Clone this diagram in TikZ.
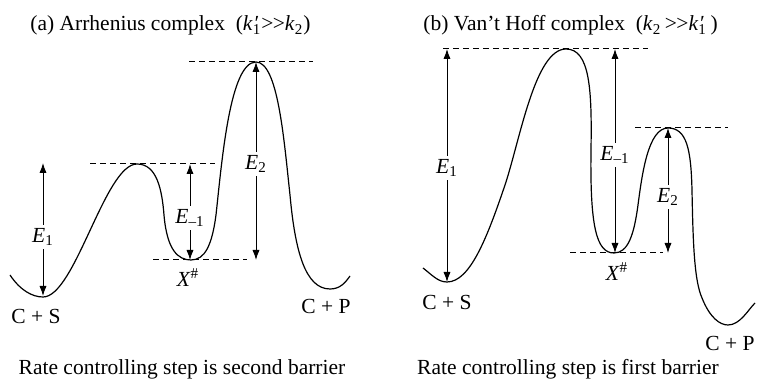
\documentclass[tikz,border=0pt]{standalone}
\usepackage{fontspec}
\setmainfont{Liberation Serif}
\usetikzlibrary{arrows.meta}
\tikzset{
  curve/.style={line width=0.6pt},
  guide/.style={line width=0.5pt, dash pattern=on 3pt off 2pt},
  arr/.style={line width=0.5pt, -{Latex[length=5pt,width=3.6pt]}},
  lbl/.style={inner sep=1.5pt, font=\fontsize{10.75}{13}\selectfont},
  txt/.style={inner sep=0pt, font=\fontsize{10.75}{13}\selectfont},
}
\newcommand{\Esub}[1]{\textit{E}\textsubscript{#1}}
\newcommand{\Xh}{\textit{X}\textsuperscript{\#}}
\newcommand{\kp}{\textit{k}\makebox[0pt][l]{\kern0.3pt\raisebox{0.1ex}{\textit{′}}}\textsubscript{1}}
\newcommand{\mygtgt}{\textgreater\kern-0.3pt\textgreater}
\begin{document}
\begin{tikzpicture}[x=0.5pt,y=-0.5pt]
\useasboundingbox (0,0) rectangle (757,379);

% ---------- panel (a) ----------
\node[txt, anchor=base west] (ta) at (30,31) {(a) Arrhenius complex\ \ (\kp\mygtgt\textit{k}\textsubscript{2})};
\draw[curve] (10,275) .. controls (20,290) and (32,297) .. (43,297)
  .. controls (75,297) and (105,164) .. (137,164)
  .. controls (157,164) and (162,190) .. (164,215)
  .. controls (167,250) and (178,260) .. (191,260)
  .. controls (205,260) and (212,245) .. (216,215)
  .. controls (222,160) and (230,62) .. (256,62)
  .. controls (278,62) and (284,140) .. (290,195)
  .. controls (295,250) and (305,289) .. (330,289)
  .. controls (340,289) and (345,283) .. (350,276);
\coordinate (ga1) at (189,62);  \coordinate (ga2) at (313,62);
\coordinate (gb1) at (90,164);  \coordinate (gb2) at (215,164);
\coordinate (gc1) at (153,260); \coordinate (gc2) at (247,260);
\draw[guide] (ga1) -- (ga2);
\draw[guide] (gb1) -- (gb2);
\draw[guide] (gc1) -- (gc2);
\coordinate (a1t) at (43,163); \coordinate (a1b) at (43,296);
\node[lbl] (aE1) at (43,237) {\Esub{1}};
\draw[arr] (aE1) -- (a1t); \draw[arr] (aE1) -- (a1b);
\coordinate (am1t) at (190,164); \coordinate (am1b) at (190,260);
\node[lbl] (aEm1) at (190,218) {\Esub{–1}};
\draw[arr] (aEm1) -- (am1t); \draw[arr] (aEm1) -- (am1b);
\coordinate (a2t) at (256,62); \coordinate (a2b) at (256,260);
\node[lbl] (aE2) at (256,164) {\Esub{2}};
\draw[arr] (aE2) -- (a2t); \draw[arr] (aE2) -- (a2b);
\node[txt] (aX) at (188,278) {\Xh};
\node[txt] (aCS) at (36,316) {C + S};
\node[txt] (aCP) at (326,306) {C + P};
\node[txt, anchor=base] (ca) at (182,375) {Rate controlling step is second barrier};

% ---------- panel (b) ----------
\node[txt, anchor=base west] (tb) at (423,31) {(b) Van’t Hoff complex\ \ (\textit{k}\textsubscript{2}\,\mygtgt\kp\,)};
\draw[curve] (423,268) .. controls (432,275) and (438,282) .. (447,282)
  .. controls (470,282) and (487,238) .. (505,185)
  .. controls (520,140) and (535,49) .. (566,49)
  .. controls (590,49) and (592,90) .. (591,150)
  .. controls (590,225) and (596,253) .. (614,253)
  .. controls (628,253) and (634,235) .. (638,205)
  .. controls (642,175) and (648,128) .. (668,128)
  .. controls (687,128) and (691,150) .. (692,190)
  .. controls (693,240) and (694,280) .. (702,298)
  .. controls (710,318) and (720,325) .. (728,325)
  .. controls (740,325) and (748,310) .. (755,303);
\coordinate (gd1) at (443,49);  \coordinate (gd2) at (648,49);
\coordinate (ge1) at (635,128); \coordinate (ge2) at (728,128);
\coordinate (gf1) at (570,253); \coordinate (gf2) at (663,253);
\draw[guide] (gd1) -- (gd2);
\draw[guide] (ge1) -- (ge2);
\draw[guide] (gf1) -- (gf2);
\coordinate (b1t) at (447,49); \coordinate (b1b) at (447,282);
\node[lbl] (bE1) at (447,168) {\Esub{1}};
\draw[arr] (bE1) -- (b1t); \draw[arr] (bE1) -- (b1b);
\coordinate (bm1t) at (615,49); \coordinate (bm1b) at (615,253);
\node[lbl] (bEm1) at (615,155) {\Esub{–1}};
\draw[arr] (bEm1) -- (bm1t); \draw[arr] (bEm1) -- (bm1b);
\coordinate (b2t) at (668,128); \coordinate (b2b) at (668,253);
\node[lbl] (bE2) at (668,197) {\Esub{2}};
\draw[arr] (bE2) -- (b2t); \draw[arr] (bE2) -- (b2b);
\node[txt] (bX) at (617,272) {\Xh};
\node[txt] (bCS) at (447,302) {C + S};
\node[txt] (bCP) at (730,343) {C + P};
\node[txt, anchor=base] (cb) at (568,375) {Rate controlling step is first barrier};
\end{tikzpicture}
\end{document}
